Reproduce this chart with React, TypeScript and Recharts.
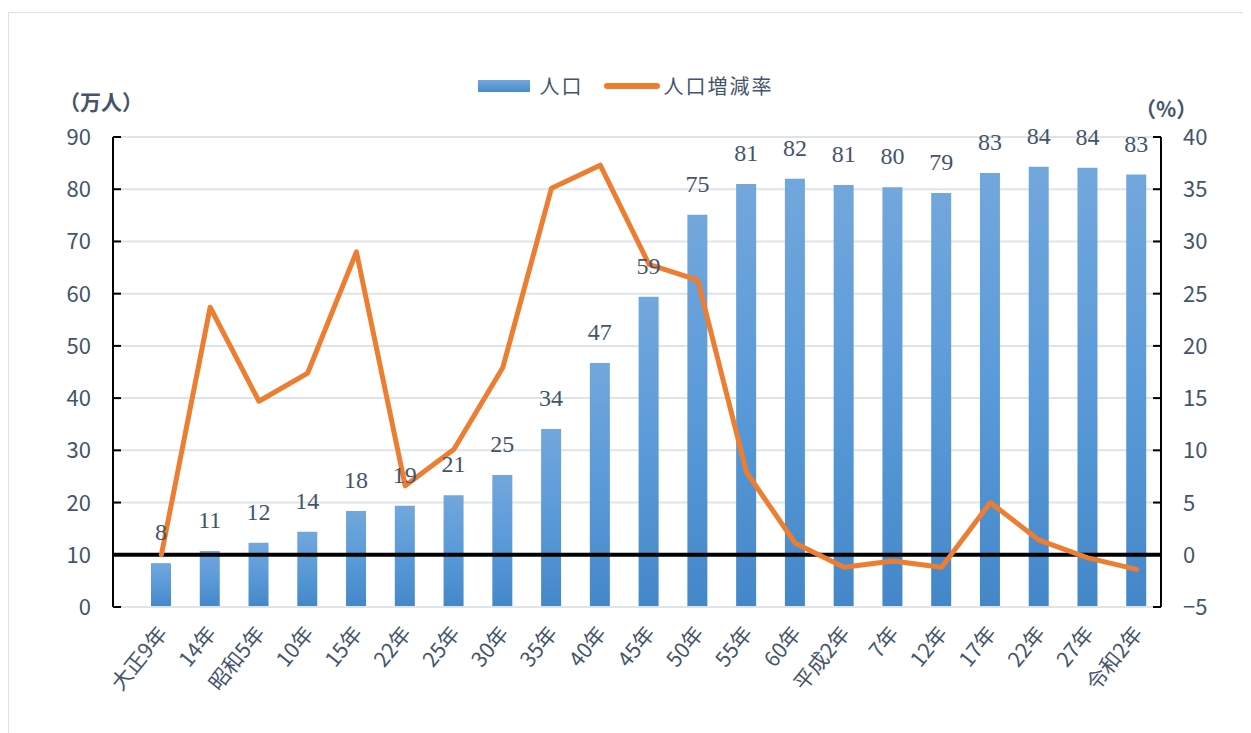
import { ComposedChart, Bar, Line, XAxis, YAxis, CartesianGrid, Legend, ReferenceLine, LabelList } from 'recharts';

const years = ['大正9年', '14年', '昭和5年', '10年', '15年', '22年', '25年', '30年', '35年', '40年', '45年', '50年', '55年', '60年', '平成2年', '7年', '12年', '17年', '22年', '27年', '令和2年'];
const population = [8.4, 10.7, 12.3, 14.4, 18.4, 19.4, 21.4, 25.3, 34.1, 46.7, 59.4, 75.1, 81.0, 82.0, 80.8, 80.4, 79.3, 83.1, 84.3, 84.1, 82.8];
const growthRate = [0, 23.7, 14.7, 17.4, 29.0, 6.6, 10.1, 17.9, 35.1, 37.3, 27.8, 26.3, 7.9, 1.1, -1.2, -0.6, -1.2, 5.0, 1.4, -0.3, -1.4];
const leftTicks = [0, 10, 20, 30, 40, 50, 60, 70, 80, 90];
const rightTicks = [-5, 0, 5, 10, 15, 20, 25, 30, 35, 40];

const data = years.map((year, i) => ({ year, pop: population[i], rate: growthRate[i] }));

const TEXT = '#44546a';
const SANS = '"Noto Sans CJK JP", "Noto Sans", sans-serif';
const ORANGE = '#ed7d31';

function LeftTick({ x, y, payload }: any) {
  const ax = x + 22;
  return (
    <g>
      <line x1={ax} y1={y} x2={ax + 8} y2={y} stroke="#000" strokeWidth={2} />
      <text x={x} y={y} dy={8} textAnchor="end" fill={TEXT} fontSize={22} fontFamily={SANS}>{payload.value}</text>
    </g>
  );
}

function RightTick({ x, y, payload }: any) {
  const ax = x - 22;
  const label = payload.value < 0 ? '\u2212' + Math.abs(payload.value) : String(payload.value);
  return (
    <g>
      <line x1={ax} y1={y} x2={ax - 8} y2={y} stroke="#000" strokeWidth={2} />
      <text x={x} y={y} dy={8} textAnchor="start" fill={TEXT} fontSize={22} fontFamily={SANS}>{label}</text>
    </g>
  );
}

function XTick({ x, y, payload }: any) {
  const tx = x + 7;
  const ty = y + 19;
  return (
    <text x={tx} y={ty} textAnchor="end" fill={TEXT} fontSize={21} fontFamily={SANS} transform={`rotate(-51 ${tx} ${ty})`}>
      {payload.value}
    </text>
  );
}

function LegendBox() {
  return (
    <div style={{ display: 'flex', justifyContent: 'center', alignItems: 'center', fontFamily: SANS, fontSize: 20, color: TEXT }}>
      <span style={{ display: 'inline-block', width: 52, height: 12, background: 'linear-gradient(#72a7dc, #4a8ccc)', marginRight: 10 }} />
      <span style={{ marginRight: 20, letterSpacing: 2 }}>人口</span>
      <span style={{ display: 'inline-block', width: 56, height: 6, borderRadius: 3, background: ORANGE, marginRight: 4 }} />
      <span style={{ letterSpacing: 2 }}>人口増減率</span>
    </div>
  );
}

export default function App() {
  return (
    <div style={{ position: 'relative', marginTop: 4, width: 1235, height: 725, border: '1px solid #e0e0e0', background: '#fff' }}>
      <div style={{ position: 'absolute', left: 50, top: 73, fontFamily: SANS, fontSize: 21, fontWeight: 700, color: TEXT }}>（万人）</div>
      <div style={{ position: 'absolute', left: 1126, top: 80, fontFamily: SANS, fontSize: 21, fontWeight: 700, color: TEXT }}>（%）</div>
      <ComposedChart width={1233} height={723} data={data} margin={{ top: 95, right: 21, bottom: 19, left: 44 }}>
        <defs>
          <linearGradient id="barFill" x1="0" y1="0" x2="0" y2="1">
            <stop offset="0%" stopColor="#72a7dc" />
            <stop offset="50%" stopColor="#5a9ad9" />
            <stop offset="100%" stopColor="#4487c8" />
          </linearGradient>
        </defs>
        <CartesianGrid vertical={false} stroke="#dfe3ea" strokeWidth={2} yAxisId="left" />
        <XAxis
          dataKey="year"
          interval={0}
          height={110}
          padding={{ left: 24, right: 0 }}
          tick={<XTick />}
          tickLine={false}
          axisLine={{ stroke: '#dfe3ea', strokeWidth: 2 }}
        />
        <YAxis
          yAxisId="left"
          domain={[0, 90]}
          ticks={leftTicks}
          width={60}
          tickSize={0}
          tickMargin={22}
          tick={<LeftTick />}
          tickLine={false}
          axisLine={{ stroke: '#000', strokeWidth: 2 }}
        />
        <YAxis
          yAxisId="right"
          orientation="right"
          domain={[-5, 40]}
          ticks={rightTicks}
          width={60}
          tickSize={0}
          tickMargin={22}
          tick={<RightTick />}
          tickLine={false}
          axisLine={{ stroke: '#000', strokeWidth: 2 }}
        />
        <Legend verticalAlign="top" content={<LegendBox />} wrapperStyle={{ top: 58, left: 0, width: 1233 }} />
        <Bar yAxisId="left" dataKey="pop" name="人口" barSize={20} fill="url(#barFill)" isAnimationActive={false}>
          <LabelList
            dataKey="pop"
            position="top"
            offset={23}
            formatter={(v: any) => Math.round(Number(v))}
            style={{ fill: TEXT, fontSize: 24, fontFamily: '"Liberation Serif", serif' }}
          />
        </Bar>
        <ReferenceLine yAxisId="right" y={0} stroke="#000" strokeWidth={4} />
        <Line
          yAxisId="right"
          type="linear"
          dataKey="rate"
          name="人口増減率"
          stroke={ORANGE}
          strokeWidth={5}
          dot={false}
          strokeLinejoin="round"
          strokeLinecap="round"
          isAnimationActive={false}
        />
      </ComposedChart>
    </div>
  );
}
